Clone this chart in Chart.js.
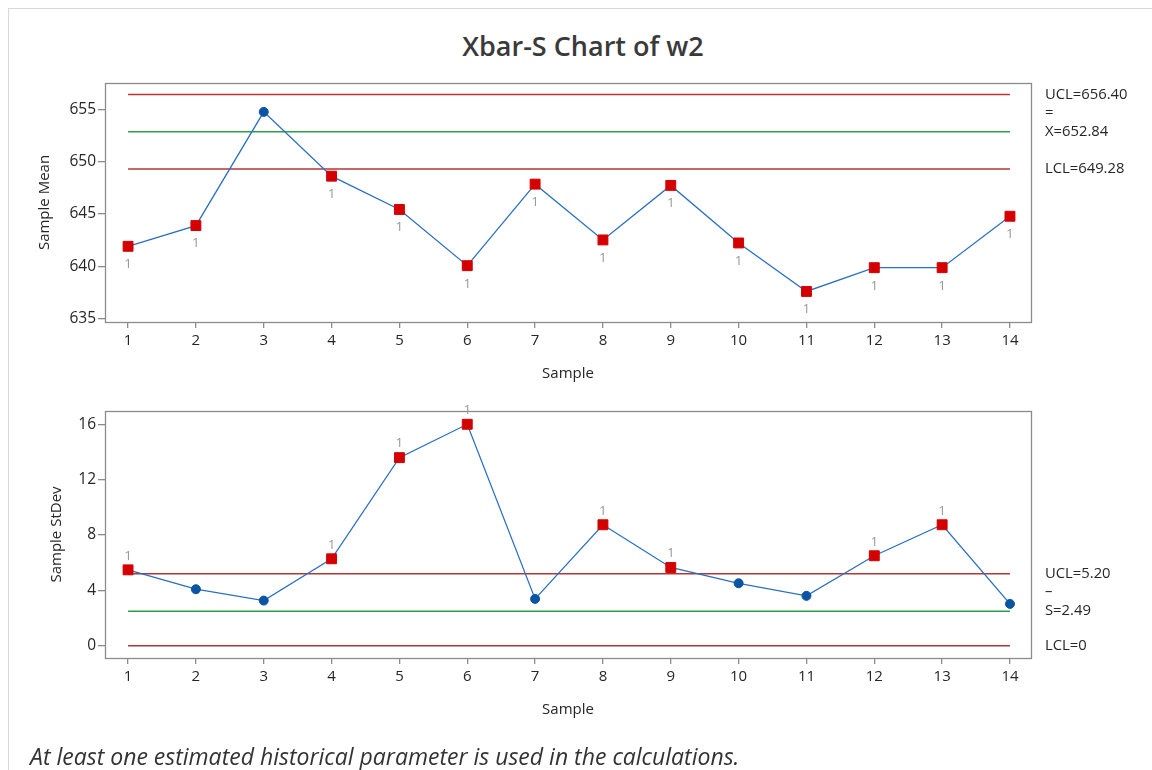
<!DOCTYPE html>
<html>
<head>
<meta charset="utf-8">
<script src="https://cdn.jsdelivr.net/npm/chart.js@4.4.0/dist/chart.umd.min.js"></script>
<style>
html,body{margin:0;padding:0;background:#fff;}
body{width:1152px;height:770px;position:relative;overflow:hidden;font-family:"Open Sans",sans-serif;}
#frame{position:absolute;left:8px;top:8px;width:1144px;height:762px;border-left:1px solid #d8d8d8;border-top:1px solid #d8d8d8;box-sizing:border-box;}
#title{position:absolute;left:0;width:1166px;top:28px;text-align:center;font-size:27px;font-weight:600;line-height:36px;color:#3a3a3a;}
#note{position:absolute;left:30px;top:740px;font-size:23px;line-height:32px;font-style:italic;color:#333;white-space:nowrap;}
.wrap{position:absolute;left:0;width:1152px;}
</style>
</head>
<body>
<div id="frame"></div>
<div id="title">Xbar-S Chart of w2</div>
<div class="wrap" style="top:0;height:395px;"><canvas id="meanChart" width="1152" height="395"></canvas></div>
<div class="wrap" style="top:395px;height:375px;"><canvas id="sdChart" width="1152" height="375"></canvas></div>
<div id="note">At least one estimated historical parameter is used in the calculations.</div>
<script>
// ---- data ----
const samples = [1,2,3,4,5,6,7,8,9,10,11,12,13,14];
const sampleMeans = [641.90,643.88,654.74,648.60,645.42,640.05,647.84,642.51,647.72,642.22,637.59,639.86,639.86,644.77];
const meanFlags = [1,1,0,1,1,1,1,1,1,1,1,1,1,1];
const meanUCL = 656.40;
const meanCL = 652.84;
const meanLCL = 649.28;
const meanTicks = [635,640,645,650,655];

const sampleStDevs = [5.48,4.08,3.26,6.28,13.59,16.00,3.38,8.74,5.65,4.51,3.60,6.50,8.74,3.02];
const sdFlags = [1,0,0,1,1,1,0,1,1,0,0,1,1,0];
const sdUCL = 5.20;
const sdCL = 2.49;
const sdLCL = 0;
const sdTicks = [0,4,8,12,16];

const FONT = '"Open Sans", sans-serif';
const TEXT = '#262626';
const AXIS = '#8c8c8c';
const LINE_BLUE = '#2a70c2';
const PT_BLUE = '#0a54a4';
const PT_RED = '#d40000';
const LIM_RED = '#b23636';
const LIM_GREEN = '#2f9e48';

const boxPlugin = {
  id: 'box',
  beforeDatasetsDraw(chart) {
    const a = chart.chartArea, ctx = chart.ctx;
    ctx.save();
    ctx.strokeStyle = AXIS; ctx.lineWidth = 1.3;
    ctx.strokeRect(Math.round(a.left)+0.5, Math.round(a.top)+0.5, Math.round(a.right-a.left), Math.round(a.bottom-a.top));
    ctx.restore();
  }
};

const annotPlugin = {
  id: 'annot',
  afterDatasetsDraw(chart, args, opts) {
    const ctx = chart.ctx, a = chart.chartArea, ys = chart.scales.y;
    ctx.save();
    // flag labels "1"
    ctx.font = '13.5px ' + FONT;
    ctx.fillStyle = '#9a9a9a';
    ctx.textAlign = 'center';
    ctx.textBaseline = 'middle';
    const meta = chart.getDatasetMeta(0);
    opts.flags.forEach((f, i) => {
      if (!f) return;
      const p = meta.data[i];
      ctx.fillText('1', p.x, p.y + opts.flagOffset);
    });
    // control limit labels on the right
    ctx.font = '14.8px ' + FONT;
    ctx.fillStyle = TEXT;
    ctx.textAlign = 'left';
    opts.limits.forEach(l => {
      const y = ys.getPixelForValue(l.value);
      if (l.bar) ctx.fillText(l.bar, a.right + 14, y - 19);
      ctx.fillText(l.text, a.right + 14, y);
    });
    ctx.restore();
  }
};

function limitSet(value, color) {
  return {
    data: [{x: samples[0], y: value}, {x: samples[samples.length-1], y: value}],
    borderColor: color, borderWidth: 1.6, pointRadius: 0, fill: false, tension: 0
  };
}

function makeChart(id, values, flags, ucl, cl, lcl, ticks, cfg) {
  return new Chart(document.getElementById(id), {
    type: 'line',
    data: {
      datasets: [
        {
          data: samples.map((s, i) => ({x: s, y: values[i]})),
          borderColor: LINE_BLUE, borderWidth: 1.3, tension: 0, fill: false,
          pointStyle: flags.map(f => f ? 'rect' : 'circle'),
          pointRadius: flags.map(f => f ? 7 : 4.5),
          pointBackgroundColor: flags.map(f => f ? PT_RED : PT_BLUE),
          pointBorderColor: flags.map(f => f ? PT_RED : PT_BLUE),
          pointBorderWidth: 1
        },
        limitSet(ucl, LIM_RED),
        limitSet(cl, LIM_GREEN),
        limitSet(lcl, LIM_RED)
      ]
    },
    options: {
      responsive: false, animation: false, events: [],
      layout: {padding: {left: 0, right: 121, top: cfg.padTop, bottom: cfg.padBottom}},
      plugins: {
        legend: {display: false}, tooltip: {enabled: false},
        annot: {flags: flags, flagOffset: cfg.flagOffset, limits: cfg.limits}
      },
      scales: {
        x: {
          type: 'linear', min: 0.66, max: 14.31,
          afterBuildTicks: s => { s.ticks = samples.map(v => ({value: v})); },
          afterFit: s => { s.height = cfg.xHeight; },
          grid: {display: true, drawOnChartArea: false, drawTicks: true, tickLength: 6, color: AXIS, lineWidth: 1.3},
          border: {display: false},
          ticks: {font: {size: 15, family: FONT}, color: TEXT, padding: 4, autoSkip: false, maxRotation: 0},
          title: {display: true, text: 'Sample', color: TEXT, font: {size: 15, family: FONT}, padding: {top: 0, bottom: cfg.xTitlePad}}
        },
        y: {
          type: 'linear', min: cfg.yMin, max: cfg.yMax,
          afterBuildTicks: s => { s.ticks = ticks.map(v => ({value: v})); },
          afterFit: s => { s.width = 105; },
          grid: {display: true, drawOnChartArea: false, drawTicks: true, tickLength: 7, color: AXIS, lineWidth: 1.3},
          border: {display: false},
          ticks: {font: {size: 15.5, family: FONT}, color: TEXT, padding: 2},
          title: {display: true, text: cfg.yTitle, color: TEXT, font: {size: 15, family: FONT}, padding: {top: cfg.yTitlePad, bottom: 0}}
        }
      }
    },
    plugins: [boxPlugin, annotPlugin]
  });
}

makeChart('meanChart', sampleMeans, meanFlags, meanUCL, meanCL, meanLCL, meanTicks, {
  padTop: 83, padBottom: 0, xHeight: 73, xTitlePad: 12,
  yMin: 634.67, yMax: 657.5, yTitle: 'Sample Mean', yTitlePad: 36,
  flagOffset: 18,
  limits: [
    {value: meanUCL, text: 'UCL=656.40'},
    {value: meanCL, text: 'X=652.84', bar: '='},
    {value: meanLCL, text: 'LCL=649.28'}
  ]
});

makeChart('sdChart', sampleStDevs, sdFlags, sdUCL, sdCL, sdLCL, sdTicks, {
  padTop: 16, padBottom: 40, xHeight: 72, xTitlePad: 11,
  yMin: -0.89, yMax: 16.96, yTitle: 'Sample StDev', yTitlePad: 48,
  flagOffset: -14,
  limits: [
    {value: sdUCL, text: 'UCL=5.20'},
    {value: sdCL, text: 'S=2.49', bar: '–'},
    {value: sdLCL, text: 'LCL=0'}
  ]
});
</script>
</body>
</html>
